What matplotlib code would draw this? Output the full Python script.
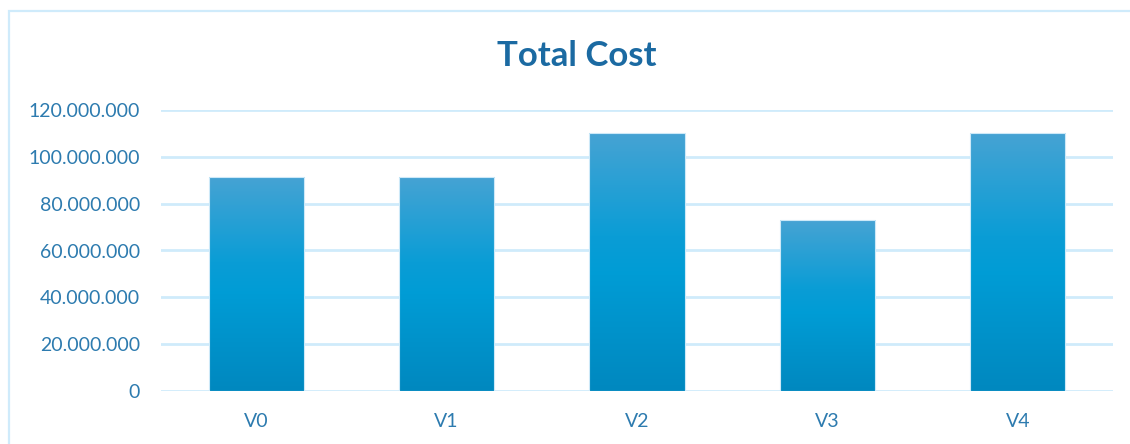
import numpy as np
import matplotlib
matplotlib.use("Agg")
import matplotlib.pyplot as plt
from matplotlib.colors import LinearSegmentedColormap
from matplotlib.patches import Rectangle
from matplotlib.ticker import FuncFormatter, MultipleLocator

# Daten
categories = ["V0", "V1", "V2", "V3", "V4"]
total_cost = [91.4e6, 91.4e6, 110.0e6, 73.0e6, 110.0e6]

title_col = "#1B6AA2"
tick_col = "#2D7BAF"
grid_col = "#CFEBFB"

plt.rcParams["font.family"] = ["Lato", "DejaVu Sans"]

fig = plt.figure(figsize=(11.3, 4.44), dpi=100)
ax = fig.add_axes([161 / 1130, 1 - 391 / 444, (1113 - 161) / 1130, (391 - 110) / 444])

x = np.arange(len(categories))
bars = ax.bar(x, total_cost, width=0.5, color="none", edgecolor="#CDE9F8", linewidth=0.8, zorder=3)

# Farbverlauf in jedem Balken
grad = LinearSegmentedColormap.from_list("g", [(0, "#0088BF"), (0.45, "#009CD5"), (0.6, "#0A9DD6"), (1, "#46A3D3")])
img = np.linspace(0, 1, 256).reshape(-1, 1)
for b in bars:
    x0, y0 = b.get_x(), b.get_y()
    w, h = b.get_width(), b.get_height()
    im = ax.imshow(img, cmap=grad, origin="lower", aspect="auto",
                   extent=[x0, x0 + w, y0, y0 + h], zorder=2)
    im.set_clip_path(b)

ax.set_xlim(-0.5, len(categories) - 0.5)
ax.set_ylim(0, 120e6)
ax.yaxis.set_major_locator(MultipleLocator(20e6))
ax.yaxis.set_major_formatter(FuncFormatter(lambda v, p: f"{int(v):,}".replace(",", ".")))
ax.set_xticks(x)
ax.set_xticklabels(categories)

ax.grid(axis="y", color=grid_col, linewidth=2, zorder=0)
ax.set_axisbelow(True)
for s in ax.spines.values():
    s.set_visible(False)
ax.tick_params(axis="both", length=0, labelsize=14, labelcolor=tick_col)
ax.tick_params(axis="y", pad=15)
ax.tick_params(axis="x", pad=16)

fig.text(577 / 1130, 1 - 56 / 444, "Total Cost", ha="center", va="center",
         fontsize=25, fontweight="bold", color=title_col)

# Rahmen um das Diagramm
fig.patches.append(Rectangle((9 / 1130, -0.1), 1.2, 1.1 - 11 / 444, transform=fig.transFigure,
                             fill=False, edgecolor=grid_col, linewidth=1.6))

fig.savefig("out.png", dpi=100)
